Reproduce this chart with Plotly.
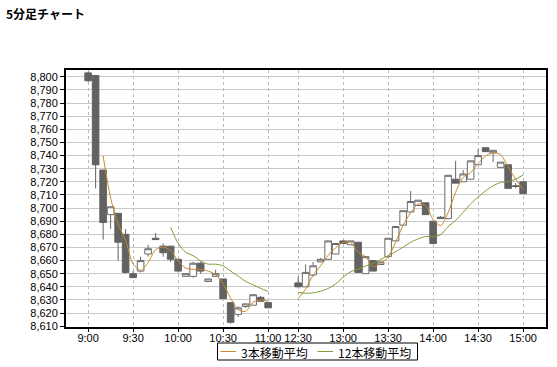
import plotly.graph_objects as go
import pandas as pd

# ---- data ----
morning_times = ["9:00","9:05","9:10","9:15","9:20","9:25","9:30","9:35","9:40","9:45",
                 "9:50","9:55","10:00","10:05","10:10","10:15","10:20","10:25","10:30",
                 "10:35","10:40","10:45","10:50","10:55","11:00"]
afternoon_times = ["12:30","12:35","12:40","12:45","12:50","12:55","13:00","13:05","13:10",
                   "13:15","13:20","13:25","13:30","13:35","13:40","13:45","13:50","13:55",
                   "14:00","14:05","14:10","14:15","14:20","14:25","14:30","14:35","14:40",
                   "14:45","14:50","14:55","15:00"]

opens = [8803, 8801, 8729, 8695, 8696, 8680, 8650, 8652, 8665, 8677,
         8671, 8671, 8661, 8648, 8648, 8658, 8644, 8648, 8646, 8628,
         8619, 8625, 8626, 8632, 8628,
         8643, 8640, 8649, 8659, 8661, 8665, 8675, 8672, 8674, 8650,
         8660, 8657, 8663, 8675, 8687, 8697, 8702, 8704, 8690, 8693,
         8692, 8722, 8720, 8722, 8733, 8746, 8742, 8731, 8733, 8717, 8720]
highs = [8804, 8801, 8729, 8701, 8696, 8684, 8652, 8663, 8672, 8681,
         8673, 8671, 8661, 8650, 8659, 8659, 8646, 8653, 8646, 8628,
         8625, 8627, 8634, 8633, 8628,
         8648, 8657, 8659, 8662, 8675, 8673, 8675, 8675, 8674, 8663,
         8660, 8659, 8677, 8686, 8698, 8713, 8706, 8704, 8690, 8694,
         8725, 8736, 8729, 8736, 8745, 8746, 8744, 8735, 8733, 8719, 8720]
lows = [8796, 8715, 8676, 8684, 8660, 8650, 8647, 8651, 8663, 8676,
        8663, 8659, 8651, 8648, 8647, 8650, 8644, 8648, 8631, 8612,
        8617, 8624, 8626, 8629, 8624,
        8640, 8640, 8648, 8659, 8661, 8665, 8673, 8672, 8651, 8650,
        8652, 8657, 8663, 8675, 8687, 8697, 8702, 8695, 8673, 8692,
        8692, 8719, 8720, 8722, 8733, 8743, 8735, 8731, 8715, 8715, 8711]
closes = [8797, 8733, 8689, 8701, 8674, 8651, 8647, 8660, 8669, 8676,
          8666, 8661, 8652, 8650, 8658, 8652, 8646, 8650, 8631, 8613,
          8624, 8627, 8634, 8629, 8624,
          8640, 8651, 8656, 8661, 8675, 8673, 8673, 8675, 8651, 8663,
          8652, 8659, 8677, 8686, 8698, 8705, 8706, 8695, 8673, 8692,
          8725, 8719, 8726, 8736, 8740, 8743, 8744, 8735, 8715, 8716.5, 8711]

ma_labels = ["3本移動平均", "12本移動平均"]
ma_periods = [3, 12]
ma_colors = ["#C8882C", "#7F9A36"]
title_text = "5分足チャート"

# ---- slot positions (lunch break leaves a gap of 3 empty slots) ----
GAP = 3
times = morning_times + afternoon_times
xpos = list(range(len(morning_times))) + [len(morning_times) + GAP + j for j in range(len(afternoon_times))]
n_morning = len(morning_times)

tickvals = [x for x, t in zip(xpos, times) if t.endswith(":00") or t.endswith(":30")]
ticktext = [t for t in times if t.endswith(":00") or t.endswith(":30")]

fig = go.Figure()
fig.add_trace(go.Candlestick(
    x=xpos, open=opens, high=highs, low=lows, close=closes,
    increasing=dict(line=dict(color="#6a6a6a", width=1), fillcolor="white"),
    decreasing=dict(line=dict(color="#626262", width=1), fillcolor="#626262"),
    whiskerwidth=0, showlegend=False, hoverinfo="skip"))

cs = pd.Series(closes, dtype=float)
for lab, p, col in zip(ma_labels, ma_periods, ma_colors):
    ma = cs.rolling(p).mean().tolist()
    xs = xpos[:n_morning] + [None] + xpos[n_morning:]
    ys = ma[:n_morning] + [None] + ma[n_morning:]
    fig.add_trace(go.Scatter(x=xs, y=ys, mode="lines", name=lab,
                             line=dict(color=col, width=1, shape="spline", smoothing=0.8),
                             connectgaps=False, showlegend=False, hoverinfo="skip"))

# ---- layout ----
L, R, T, B = 66, 11, 70, 40
W, H = 557, 367
pw, ph = W - L - R, H - T - B
def px(x):
    return (x - L) / pw
def py(y):
    return (H - B - y) / ph

shapes = [
    dict(type="rect", xref="paper", yref="paper", x0=px(217.5), x1=px(417.5), y0=py(343), y1=py(360),
         line=dict(color="black", width=1), fillcolor="white"),
]
annotations = []
items = [(220.5, 236, 239), (317.5, 333, 335.5)]
for (lx0, lx1, tx), lab, col in zip(items, ma_labels, ma_colors):
    shapes.append(dict(type="line", xref="paper", yref="paper", x0=px(lx0), x1=px(lx1),
                       y0=py(351.5), y1=py(351.5), line=dict(color=col, width=1)))
    annotations.append(dict(xref="paper", yref="paper", x=px(tx), y=py(352), xanchor="left",
                            yanchor="middle", text=lab, showarrow=False,
                            font=dict(size=12, color="black", family="Noto Sans CJK JP")))

fig.update_layout(
    width=W, height=H,
    margin=dict(l=L, r=R, t=T, b=B, autoexpand=False),
    paper_bgcolor="white", plot_bgcolor="white",
    font=dict(family="Liberation Sans, Arial, Noto Sans CJK JP", size=11, color="black"),
    title=dict(text="<b>" + title_text + "</b>", xref="container", yref="container",
               x=6 / W, xanchor="left", y=1 - 14.5 / H, yanchor="middle",
               font=dict(size=12, family="Noto Sans CJK JP", color="black")),
    showlegend=False,
    boxgap=0.12, boxgroupgap=0.0,
    shapes=shapes, annotations=annotations,
)
fig.update_xaxes(
    range=[-2.95, 61.05], rangeslider=dict(visible=False),
    tickmode="array", tickvals=tickvals, ticktext=ticktext,
    showgrid=True, gridcolor="#b8b8b8", griddash="dot", gridwidth=1,
    showline=True, linecolor="black", linewidth=2, mirror=True,
    ticks="outside", ticklen=3, tickcolor="black", zeroline=False,
    ticklabelstandoff=-3,
)
fig.update_yaxes(
    range=[8609.4, 8805.2], dtick=10, tick0=8610, tickformat=",",
    showgrid=True, gridcolor="#c8c8c8", gridwidth=1,
    showline=True, linecolor="black", linewidth=2, mirror=True,
    ticks="outside", ticklen=4, tickcolor="black", zeroline=False,
)

fig.write_html("out.html")
